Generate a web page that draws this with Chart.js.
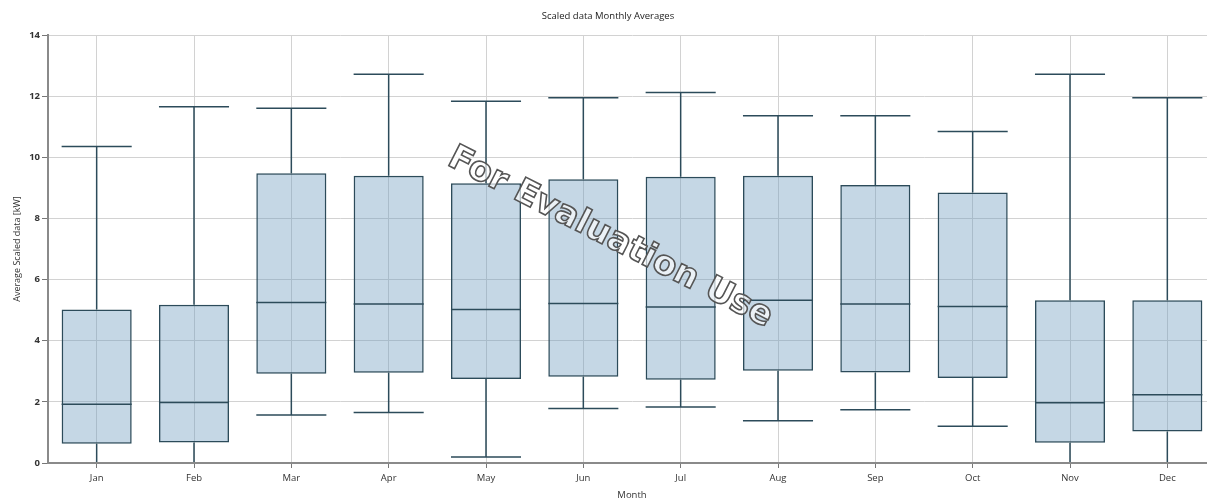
<!DOCTYPE html>
<html>
<head>
<meta charset="utf-8">
<script src="https://cdn.jsdelivr.net/npm/chart.js@4/dist/chart.umd.min.js"></script>
<style>
  html, body { margin: 0; padding: 0; background: #ffffff; overflow: hidden; }
  #wrap { position: relative; width: 1226px; height: 501px; }
</style>
</head>
<body>
<div id="wrap"><canvas id="chart"></canvas></div>
<script>
// Monthly distribution of the scaled data (kW)
const months      = ['Jan', 'Feb', 'Mar', 'Apr', 'May', 'Jun', 'Jul', 'Aug', 'Sep', 'Oct', 'Nov', 'Dec'];
const whiskerLow  = [0.00, 0.00, 1.57, 1.65, 0.20, 1.78, 1.83, 1.38, 1.74, 1.20, 0.00, 0.00];
const quartile1   = [0.63, 0.67, 2.92, 2.95, 2.75, 2.82, 2.72, 3.02, 2.96, 2.78, 0.66, 1.03];
const medians     = [1.92, 1.98, 5.25, 5.20, 5.02, 5.22, 5.10, 5.32, 5.20, 5.12, 1.97, 2.23];
const quartile3   = [5.02, 5.18, 9.48, 9.40, 9.15, 9.28, 9.36, 9.40, 9.09, 8.85, 5.32, 5.32];
const whiskerHigh = [10.35, 11.65, 11.60, 12.72, 11.83, 11.95, 12.12, 11.36, 11.36, 10.84, 12.72, 11.95];
const yTicks      = [0, 2, 4, 6, 8, 10, 12, 14];

const lineColor = '#2c4b5a';
const fontFamily = '"Open Sans", "Noto Sans", sans-serif';

// Whiskers, caps and median lines, placed with the chart's own scales
const boxPlotExtras = {
  id: 'boxPlotExtras',
  afterDatasetsDraw(chart) {
    const { ctx, chartArea, scales: { x, y } } = chart;
    const meta = chart.getDatasetMeta(0);
    ctx.save();
    ctx.beginPath();
    // keep whiskers inside the plot, above the x axis line
    ctx.rect(chartArea.left, chartArea.top, chartArea.right - chartArea.left, chartArea.bottom - chartArea.top - 1);
    ctx.clip();
    ctx.strokeStyle = lineColor;
    ctx.lineWidth = 1.5;
    months.forEach((m, i) => {
      const bar = meta.data[i];
      const half = bar.width / 2;
      const cx = x.getPixelForValue(i);
      const yHi = y.getPixelForValue(whiskerHigh[i]);
      const yQ3 = y.getPixelForValue(quartile3[i]);
      const yQ1 = y.getPixelForValue(quartile1[i]);
      const yLo = y.getPixelForValue(whiskerLow[i]);
      const yMed = y.getPixelForValue(medians[i]);
      ctx.beginPath();
      // upper whisker + cap
      ctx.moveTo(cx, yQ3); ctx.lineTo(cx, yHi);
      ctx.moveTo(cx - half, yHi); ctx.lineTo(cx + half, yHi);
      // lower whisker + cap
      ctx.moveTo(cx, yQ1); ctx.lineTo(cx, yLo);
      ctx.moveTo(cx - half, yLo); ctx.lineTo(cx + half, yLo);
      // median
      ctx.moveTo(cx - half, yMed); ctx.lineTo(cx + half, yMed);
      ctx.stroke();
    });
    ctx.restore();
  },
  afterDraw(chart) {
    // outlined watermark across the plot
    const { ctx } = chart;
    ctx.save();
    ctx.translate(610, 238);
    ctx.rotate(27 * Math.PI / 180);
    ctx.font = 'bold 34px "DejaVu Sans", sans-serif';
    ctx.textAlign = 'center';
    ctx.textBaseline = 'middle';
    ctx.fillStyle = 'rgba(255,255,255,0.65)';
    ctx.fillText('For Evaluation Use', 0, 0);
    ctx.lineWidth = 1.6;
    ctx.strokeStyle = '#555555';
    ctx.strokeText('For Evaluation Use', 0, 0);
    ctx.restore();
  }
};

new Chart(document.getElementById('chart'), {
  type: 'bar',
  data: {
    labels: months,
    datasets: [{
      label: 'Scaled data',
      data: months.map((m, i) => [quartile1[i], quartile3[i]]),
      backgroundColor: 'rgba(110,155,190,0.40)',
      borderColor: lineColor,
      borderWidth: 1.5,
      borderSkipped: false,
      categoryPercentage: 1,
      barPercentage: 0.72
    }]
  },
  options: {
    responsive: true,
    maintainAspectRatio: false,
    animation: false,
    layout: { padding: { left: 0, right: 10, top: 0, bottom: 0 } },
    plugins: {
      legend: { display: false },
      tooltip: { enabled: false },
      title: {
        display: true,
        text: 'Scaled data Monthly Averages',
        color: '#222',
        font: { family: fontFamily, size: 9.5, weight: 'normal' },
        padding: { top: 11, bottom: 12.6 }
      }
    },
    scales: {
      x: {
        offset: true,
        grid: { offset: false, color: '#d2d2d2', lineWidth: 1, tickLength: 5, tickColor: '#777' },
        border: { color: '#8a8a8a', width: 2 },
        ticks: { color: '#333', padding: 5, font: { family: fontFamily, size: 9.5 } },
        title: { display: true, text: 'Month', color: '#333', padding: { top: 1, bottom: 0 }, font: { family: fontFamily, size: 9.5 } },
        afterFit(scale) { scale.height = 38; }
      },
      y: {
        min: 0,
        max: 14,
        afterBuildTicks(scale) { scale.ticks = yTicks.map(v => ({ value: v })); },
        grid: { color: '#d2d2d2', lineWidth: 1, tickLength: 6, tickColor: '#777' },
        border: { color: '#8a8a8a', width: 2 },
        ticks: { color: '#333', padding: 2, font: { family: fontFamily, size: 9.5, weight: 'bold' } },
        title: { display: true, text: 'Average Scaled data [kW]', color: '#333', padding: { top: 12, bottom: 0 }, font: { family: fontFamily, size: 9 } },
        afterFit(scale) { scale.width = 48; }
      }
    }
  },
  plugins: [boxPlotExtras]
});
</script>
</body>
</html>
